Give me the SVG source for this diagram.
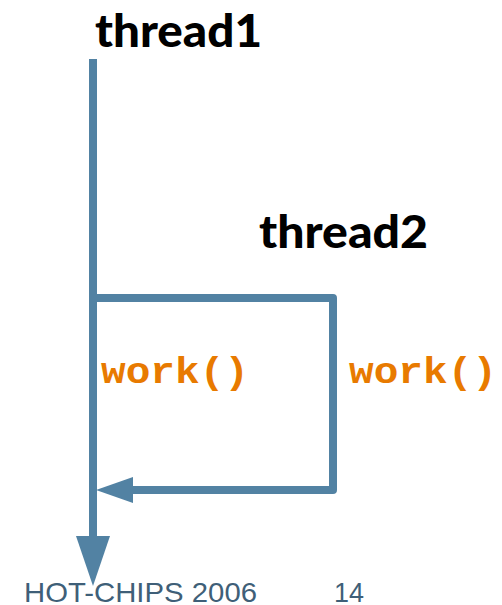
<svg xmlns="http://www.w3.org/2000/svg" width="502" height="605" viewBox="0 0 502 605">
  <style>
    .thread { font-family: "Lato", "Open Sans", sans-serif; font-weight: 900; font-size: 46px; fill: #000000; }
    .call { font-family: "Liberation Mono", "Courier New", monospace; font-weight: 700; font-size: 36px; fill: #E87A00; }
    .foot { font-family: "Liberation Sans", Arial, sans-serif; font-size: 28px; fill: #3F5F78; }
    .wire { fill: none; stroke: #5282A3; stroke-width: 8; stroke-linejoin: round; }
    .head { fill: #5282A3; }
  </style>

  <g id="connectors">
    <!-- main thread timeline -->
    <line class="wire" x1="93" y1="59" x2="93" y2="540" stroke-linecap="butt"/>
    <polygon class="head" points="76,536 110,536 93,586"/>
    <!-- fork to thread2 and join back -->
    <polyline class="wire" points="93,298 333,298 333,490 128,490"/>
    <polygon class="head" points="133,477 133,503 96,490"/>
  </g>

  <g id="thread1">
    <text class="thread" x="95" y="47" textLength="167" lengthAdjust="spacingAndGlyphs">thread1</text>
  </g>
  <g id="thread2">
    <text class="thread" x="259" y="248" textLength="169" lengthAdjust="spacingAndGlyphs">thread2</text>
  </g>
  <g id="work1">
    <text class="call" x="101" y="383" textLength="148" lengthAdjust="spacingAndGlyphs">work()</text>
  </g>
  <g id="work2">
    <text class="call" x="349" y="383" textLength="148" lengthAdjust="spacingAndGlyphs">work()</text>
  </g>
  <g id="footer">
    <text class="foot" x="24" y="602" textLength="233" lengthAdjust="spacingAndGlyphs">HOT-CHIPS 2006</text>
    <text class="foot" x="334" y="602" textLength="30" lengthAdjust="spacingAndGlyphs">14</text>
  </g>
</svg>
